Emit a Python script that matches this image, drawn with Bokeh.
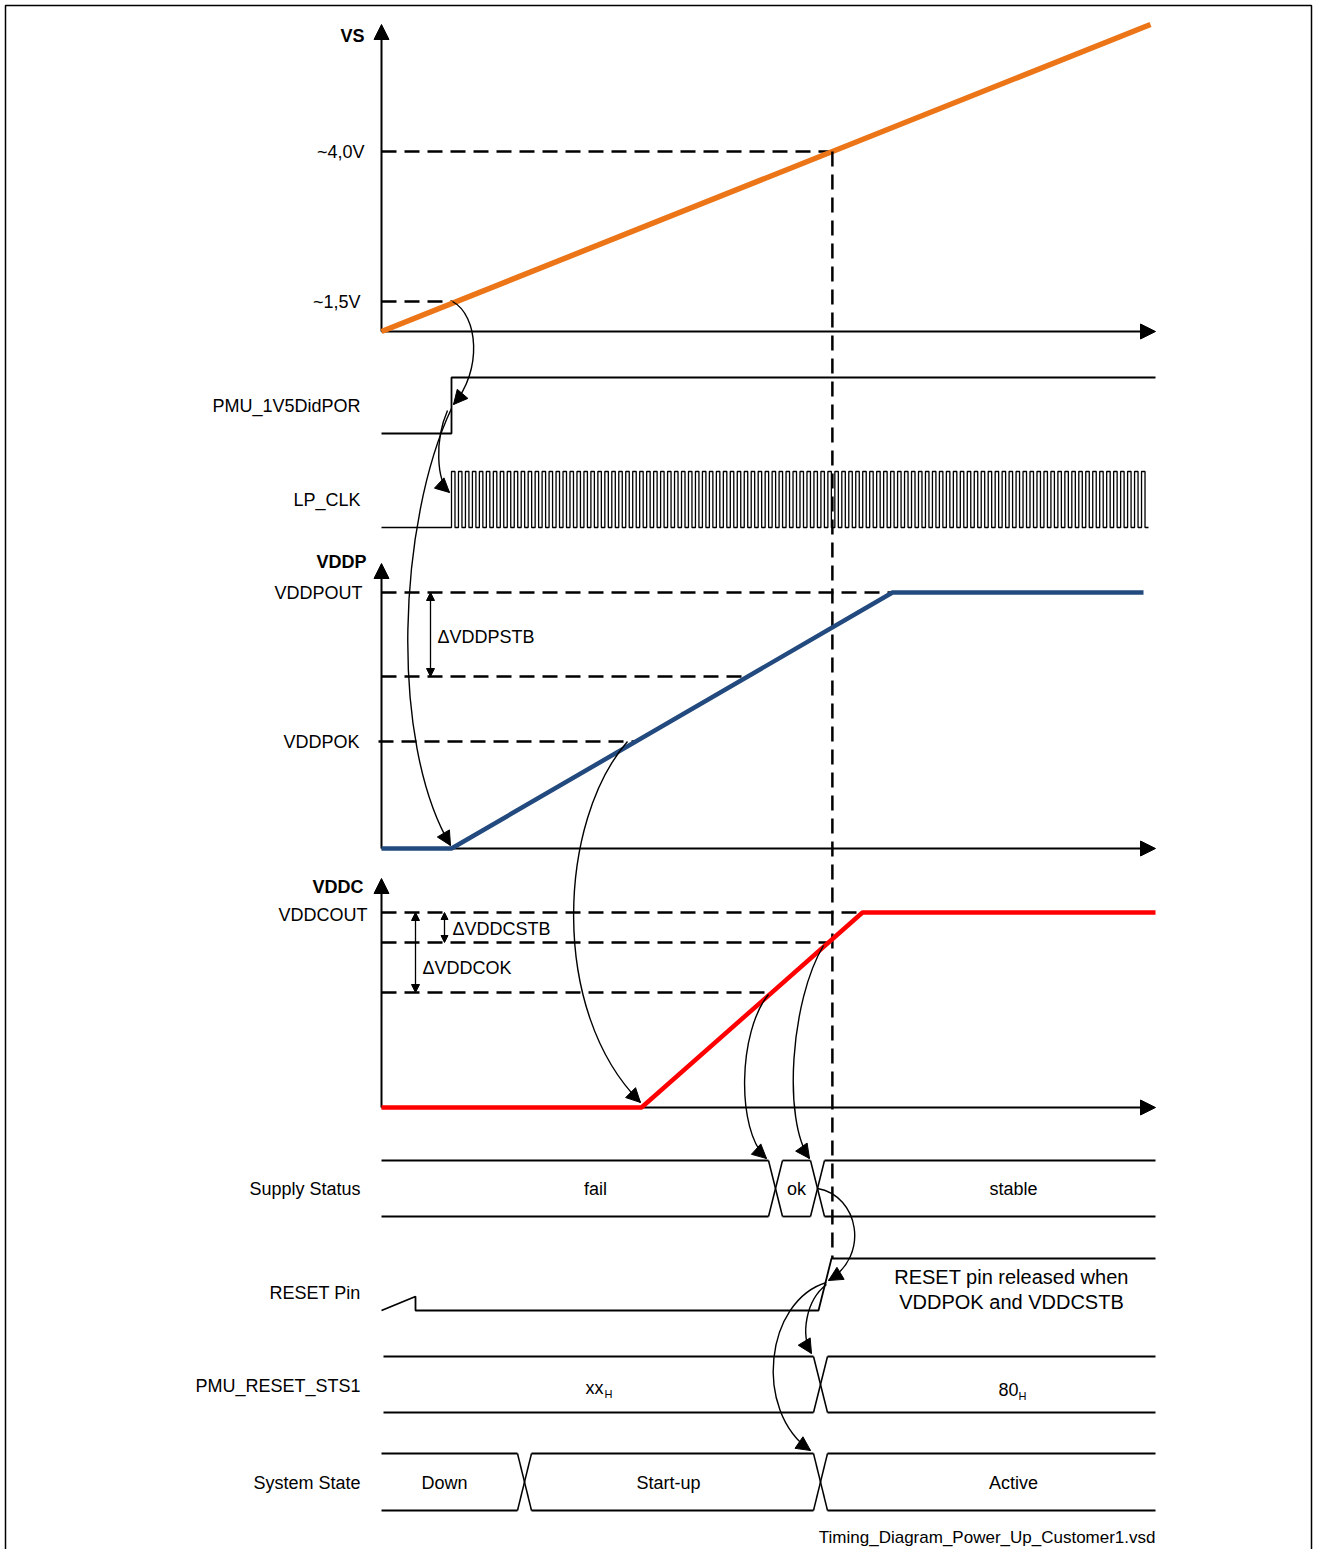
import numpy as np
from bokeh.plotting import figure
from bokeh.models import Range1d, Arrow, NormalHead
from bokeh.core.properties import value
from bokeh.embed import file_html
from bokeh.resources import INLINE

# ---------------- data (diagram units: time -> x, level -> y) ----------------
T0, T_END = 381, 1155

vs_t = [381, 1150]
vs_v = [331, 24]
vs_tick_labels = ["~4,0V", "~1,5V"]
vs_tick_v = [151, 301]

por_t = [381, 451, 451, 1155]
por_v = [433, 433, 377, 377]

clk_start, clk_end, clk_cycles = 451, 1148, 100
clk_low, clk_high = 527, 471

vddp_t = [381, 451, 892, 1143]
vddp_v = [848, 848, 592, 592]
vddp_level_v = [592, 676, 741]          # VDDPOUT, VDDPOUT-dSTB, VDDPOK

vddc_t = [381, 641, 862, 1155]
vddc_v = [1107, 1107, 912, 912]
vddc_level_v = [912, 942, 992]          # VDDCOUT, VDDCSTB, VDDCOK

supply_edges = [768, 810]
supply_labels = ["fail", "ok", "stable"]
supply_label_t = [595, 796, 1013]

reset_t = [381, 415, 415, 818, 831, 1155]
reset_v = [1310, 1296, 1310, 1310, 1258, 1258]

sts_edges = [813]
sts_labels = ["xx", "80"]
sts_label_t = [594, 1008]

state_edges = [517, 813]
state_labels = ["Down", "Start-up", "Active"]
state_label_t = [444, 668, 1013]

signal_names = ["PMU_1V5DidPOR", "LP_CLK", "Supply Status", "RESET Pin",
                "PMU_RESET_STS1", "System State"]
signal_v = [405, 499, 1188, 1292, 1385, 1482]

# ---------------- styles ----------------
NARROW = value("Liberation Sans")
SANS = value("Liberation Sans")
LBL = "18px"
ORANGE = "#EC7518"
BLUE = "#234A7E"
RED = "#FF0000"
DASH = "15 8"

p = figure(width=1313, height=1549, x_range=Range1d(0, 1313), y_range=Range1d(1549, 0),
           output_backend="svg", toolbar_location=None, x_axis_type=None, y_axis_type=None,
           min_border=0, outline_line_color=None)
p.grid.visible = False


def interp_t(level, ts, vs):
    ts = np.asarray(ts, float)
    vs = np.asarray(vs, float)
    for i in range(len(ts) - 1):
        lo, hi = sorted([vs[i], vs[i + 1]])
        if lo <= level <= hi and vs[i] != vs[i + 1]:
            return ts[i] + (level - vs[i]) * (ts[i + 1] - ts[i]) / (vs[i + 1] - vs[i])
    return ts[-1]


def axis_arrow(x0, y0, x1, y1):
    p.add_layout(Arrow(end=NormalHead(size=15, fill_color="black", line_color="black"),
                       x_start=x0, y_start=y0, x_end=x1, y_end=y1,
                       line_width=2, line_color="black", level="underlay"))


def dbl_arrow(x, y0, y1, size=8):
    p.add_layout(Arrow(start=NormalHead(size=size, fill_color="black", line_color="black"),
                       end=NormalHead(size=size, fill_color="black", line_color="black"),
                       x_start=x, y_start=y0, x_end=x, y_end=y1,
                       line_width=1.3, line_color="black"))


def curve_arrow(x0, y0, cx0, cy0, cx1, cy1, x1, y1):
    p.bezier(x0=[x0], y0=[y0], x1=[x1], y1=[y1], cx0=[cx0], cy0=[cy0], cx1=[cx1], cy1=[cy1],
             line_color="black", line_width=1.4)
    dx, dy = x1 - cx1, y1 - cy1
    n = np.hypot(dx, dy)
    p.add_layout(Arrow(end=NormalHead(size=14, fill_color="black", line_color="black"),
                       x_start=x1 - 3 * dx / n, y_start=y1 - 3 * dy / n, x_end=x1, y_end=y1,
                       line_width=1, line_color="black"))


def bus(edges, top, bot, x0, x1, w=14):
    starts = [x0] + [e + w for e in edges]
    ends = list(edges) + [x1]
    p.segment(x0=starts, y0=[top] * len(starts), x1=ends, y1=[top] * len(ends),
              line_color="black", line_width=1.8)
    p.segment(x0=starts, y0=[bot] * len(starts), x1=ends, y1=[bot] * len(ends),
              line_color="black", line_width=1.8)
    for e in edges:
        p.segment(x0=[e, e], y0=[top, bot], x1=[e + w, e + w], y1=[bot, top],
                  line_color="black", line_width=1.5)


# frame
p.line(x=[5, 5, 1311, 1311], y=[1549, 5, 5, 1549], line_color="black", line_width=1.5)

# ---------------- VS panel ----------------
axis_arrow(T0, vs_v[0], T0, 24)
axis_arrow(T0, vs_v[0], T_END, vs_v[0])
vs_cross = [interp_t(v, vs_t, vs_v) for v in vs_tick_v]
for v, tx in zip(vs_tick_v, vs_cross):
    p.line(x=[T0, tx], y=[v, v], line_color="black", line_width=2.5, line_dash=DASH)
p.line(x=vs_t, y=vs_v, line_color=ORANGE, line_width=5.5)
p.text(x=[364, 360], y=vs_tick_v, text=vs_tick_labels, text_font=NARROW, text_font_size=LBL,
       text_align="right", text_baseline="middle")
p.text(x=[364], y=[35], text=["VS"], text_font=NARROW, text_font_size=LBL,
       text_font_style="bold", text_align="right", text_baseline="middle")

# vertical marker at VS ~4,0V
t_marker = vs_cross[0]
p.line(x=[t_marker, t_marker], y=[vs_tick_v[0], reset_v[-1]], line_color="black",
       line_width=2.5, line_dash=DASH)

# ---------------- PMU_1V5DidPOR & LP_CLK ----------------
p.line(x=por_t, y=por_v, line_color="black", line_width=1.8)
period = (clk_end - clk_start) / clk_cycles
cx, cy = [T0, clk_start], [clk_low, clk_low]
for i in range(clk_cycles):
    a = clk_start + i * period
    m = a + period * 0.5
    b = a + period
    cx += [a, m, m, b]
    cy += [clk_high, clk_high, clk_low, clk_low]
p.line(x=cx, y=cy, line_color="black", line_width=1.3)

# ---------------- VDDP panel ----------------
axis_arrow(T0, vddp_v[0], T0, 563)
axis_arrow(T0, vddp_v[0], T_END, vddp_v[0])
for i, v in enumerate(vddp_level_v):
    tx = interp_t(v, vddp_t, vddp_v)
    p.line(x=[T0 - (3 if i == 2 else 0), tx], y=[v, v], line_color="black", line_width=2.5,
           line_dash=DASH)
p.line(x=vddp_t, y=vddp_v, line_color=BLUE, line_width=4.5)
dbl_arrow(430, vddp_level_v[0], vddp_level_v[1])
p.text(x=[366], y=[561], text=["VDDP"], text_font=NARROW, text_font_size=LBL,
       text_font_style="bold", text_align="right", text_baseline="middle")
p.text(x=[362, 359], y=[vddp_level_v[0], vddp_level_v[2]], text=["VDDPOUT", "VDDPOK"],
       text_font=NARROW, text_font_size=LBL, text_align="right", text_baseline="middle")
p.text(x=[437], y=[636], text=["\u0394VDDPSTB"], text_font=NARROW, text_font_size=LBL,
       text_align="left", text_baseline="middle")

# ---------------- VDDC panel ----------------
axis_arrow(T0, vddc_v[0], T0, 878)
axis_arrow(T0, vddc_v[0], T_END, vddc_v[0])
for v in vddc_level_v:
    tx = interp_t(v, vddc_t, vddc_v)
    p.line(x=[T0, tx], y=[v, v], line_color="black", line_width=2.5, line_dash=DASH)
p.line(x=vddc_t, y=vddc_v, line_color=RED, line_width=4.5)
dbl_arrow(444, vddc_level_v[0], vddc_level_v[1], size=7)
dbl_arrow(415, vddc_level_v[0], vddc_level_v[2])
p.text(x=[363], y=[886], text=["VDDC"], text_font=NARROW, text_font_size=LBL,
       text_font_style="bold", text_align="right", text_baseline="middle")
p.text(x=[367], y=[914], text=["VDDCOUT"], text_font=NARROW, text_font_size=LBL,
       text_align="right", text_baseline="middle")
p.text(x=[452, 422], y=[928, 967], text=["\u0394VDDCSTB", "\u0394VDDCOK"], text_font=NARROW,
       text_font_size=LBL, text_align="left", text_baseline="middle")

# ---------------- digital rows ----------------
bus(supply_edges, 1160, 1216, T0, T_END)
p.text(x=supply_label_t, y=[1188] * 3, text=supply_labels, text_font=NARROW,
       text_font_size=LBL, text_align="center", text_baseline="middle")

p.line(x=reset_t, y=reset_v, line_color="black", line_width=1.8)
p.text(x=[1011, 1011], y=[1276, 1301], text=["RESET pin released when", "VDDPOK and VDDCSTB"],
       text_font=SANS, text_font_size="20px", text_align="center", text_baseline="middle")

bus(sts_edges, 1356, 1412, 383, T_END)
p.text(x=sts_label_t, y=[1387, 1389], text=sts_labels, text_font=NARROW, text_font_size=LBL,
       text_align="center", text_baseline="middle")
p.text(x=[t + 14 for t in sts_label_t], y=[1393, 1395], text=["H", "H"], text_font=NARROW,
       text_font_size="11px", text_align="center", text_baseline="middle")

bus(state_edges, 1453, 1510, T0, T_END)
p.text(x=state_label_t, y=[1482] * 3, text=state_labels, text_font=NARROW,
       text_font_size=LBL, text_align="center", text_baseline="middle")

p.text(x=[360] * len(signal_names), y=signal_v, text=signal_names, text_font=NARROW,
       text_font_size=LBL, text_align="right", text_baseline="middle")

p.text(x=[1155], y=[1537], text=["Timing_Diagram_Power_Up_Customer1.vsd"], text_font=SANS,
       text_font_size="17px", text_align="right", text_baseline="middle")

# ---------------- causal arrows ----------------
curve_arrow(452, 301, 478, 315, 482, 370, 453, 404)
curve_arrow(447, 410, 434, 440, 436, 480, 449, 492)
curve_arrow(451, 408, 398, 520, 388, 740, 450, 845)
curve_arrow(627, 741, 558, 820, 548, 1010, 640, 1102)
curve_arrow(768, 994, 738, 1030, 735, 1130, 766, 1158)
curve_arrow(823, 945, 790, 1000, 782, 1120, 809, 1158)
curve_arrow(817, 1188, 858, 1195, 870, 1255, 828, 1280)
curve_arrow(826, 1284, 805, 1300, 800, 1335, 811, 1353)
curve_arrow(826, 1282, 765, 1300, 752, 1410, 810, 1450)

open("out.html", "w").write(file_html(p, INLINE))
